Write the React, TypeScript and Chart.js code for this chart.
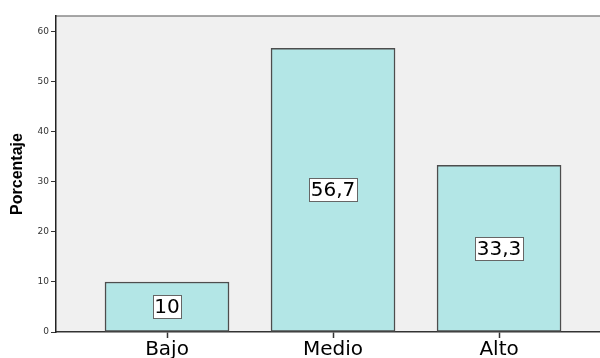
import React, { useEffect, useRef } from "react";
import { Chart, registerables } from "chart.js";

Chart.register(...registerables);

const categories = ["Bajo", "Medio", "Alto"];
const percentages = [10, 56.7, 33.3];
const valueLabels = ["10", "56,7", "33,3"];
const yTicks = [0, 10, 20, 30, 40, 50, 60];
const yTitle = "Porcentaje";

const plotBackground = {
  id: "plotBackground",
  beforeDraw(chart: any) {
    const { ctx, chartArea } = chart;
    ctx.save();
    ctx.fillStyle = "#f0f0f0";
    ctx.fillRect(chartArea.left, chartArea.top, chartArea.right - chartArea.left, chartArea.bottom - chartArea.top);
    ctx.strokeStyle = "#8a8a8a";
    ctx.lineWidth = 1.5;
    ctx.beginPath();
    ctx.moveTo(chartArea.left, chartArea.top);
    ctx.lineTo(chartArea.right, chartArea.top);
    ctx.stroke();
    ctx.restore();
  },
};

const boxLabels = {
  id: "boxLabels",
  afterDatasetsDraw(chart: any) {
    const { ctx } = chart;
    const meta = chart.getDatasetMeta(0);
    ctx.save();
    ctx.font = "20px 'DejaVu Sans'";
    ctx.textAlign = "center";
    ctx.textBaseline = "middle";
    meta.data.forEach((bar: any, i: number) => {
      const text = valueLabels[i];
      const cx = bar.x;
      const cy = (bar.y + bar.base) / 2;
      const w = ctx.measureText(text).width + 3;
      const h = 23;
      const x0 = Math.round(cx - w / 2) + 0.5;
      const y0 = Math.round(cy - h / 2) + 0.5;
      ctx.fillStyle = "#ffffff";
      ctx.fillRect(x0, y0, Math.round(w), h);
      ctx.strokeStyle = "#666666";
      ctx.lineWidth = 1;
      ctx.strokeRect(x0, y0, Math.round(w), h);
      ctx.fillStyle = "#000000";
      ctx.fillText(text, cx, cy + 1);
    });
    ctx.restore();
  },
};

export default function App() {
  const ref = useRef<HTMLCanvasElement | null>(null);

  useEffect(() => {
    if (!ref.current) return;
    const chart = new Chart(ref.current, {
      type: "bar",
      data: {
        datasets: [
          {
            data: percentages.map((v, i) => ({ x: i, y: v })),
            backgroundColor: "#b3e6e6",
            borderColor: "#4d4d4d",
            borderWidth: 1.5,
            borderSkipped: false,
            barThickness: 124,
          },
        ],
      },
      options: {
        animation: false,
        responsive: true,
        maintainAspectRatio: false,
        layout: { padding: { top: 16, right: 0, bottom: 0, left: 0 } },
        plugins: {
          legend: { display: false },
          tooltip: { enabled: false },
        },
        scales: {
          x: {
            type: "linear",
            offset: false,
            min: -0.6687,
            max: 2.608,
            afterBuildTicks: (scale: any) => {
              scale.ticks = categories.map((_, i) => ({ value: i }));
            },
            afterFit: (scale: any) => {
              scale.height = 26;
            },
            grid: {
              display: true,
              offset: false,
              drawOnChartArea: false,
              tickLength: 6,
              tickColor: "#333333",
              tickWidth: 1.5,
            },
            border: { display: true, color: "#333333", width: 1.5 },
            ticks: {
              padding: 0,
              color: "#000000",
              font: { family: "'DejaVu Sans'", size: 20 },
              maxRotation: 0,
              autoSkip: false,
              callback: (v: any) => categories[v as number] ?? "",
            },
          },
          y: {
            min: 0,
            max: 63.15,
            afterBuildTicks: (scale: any) => {
              scale.ticks = yTicks.map((v) => ({ value: v }));
            },
            afterFit: (scale: any) => {
              scale.width = 56;
            },
            grid: {
              display: true,
              drawOnChartArea: false,
              tickLength: 5,
              tickColor: "#333333",
            },
            border: { display: true, color: "#222222", width: 1.5 },
            ticks: {
              padding: 2,
              color: "#333333",
              font: { family: "'DejaVu Sans'", size: 9 },
            },
            title: {
              display: true,
              text: yTitle,
              color: "#000000",
              padding: { top: 8, bottom: 0 },
              font: { family: "'Liberation Sans', Arial, sans-serif", size: 16, weight: "bold" },
            },
          },
        },
      },
      plugins: [plotBackground, boxLabels],
    });
    return () => chart.destroy();
  }, []);

  return (
    <div style={{ position: "fixed", left: 0, top: 0, width: 600, height: 358, background: "#ffffff" }}>
      <canvas ref={ref} />
    </div>
  );
}
